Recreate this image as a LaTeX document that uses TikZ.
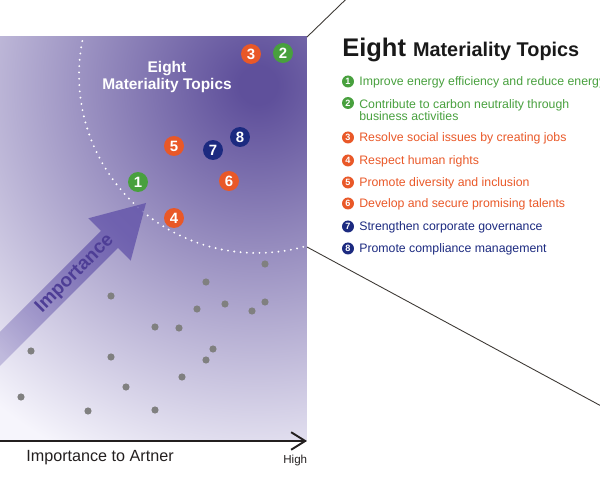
\documentclass[tikz,border=0pt]{standalone}
\usepackage{fontspec}
\setmainfont{Liberation Sans}
\usetikzlibrary{arrows.meta,positioning,calc,fadings}
\definecolor{MatDeep}{RGB}{95,80,155}
\definecolor{MatPale}{RGB}{246,245,252}
\definecolor{MatArrow}{RGB}{100,85,170}
\definecolor{MatInk}{RGB}{78,62,150}
\definecolor{MatGreen}{RGB}{72,160,62}
\definecolor{MatOrange}{RGB}{233,88,40}
\definecolor{MatNavy}{RGB}{28,42,128}
\definecolor{MatDot}{RGB}{128,128,128}
\definecolor{MatRule}{RGB}{60,56,52}
\definecolor{MatAxis}{RGB}{35,31,31}
\definecolor{MatHead}{RGB}{25,25,25}
\pgfdeclareradialshading{matglow}{\pgfpoint{0bp}{0bp}}{color(0bp)=(MatDeep); color(1bp)=(MatDeep); color(21.5bp)=(MatPale); color(50bp)=(MatPale)}
\tikzfading[name=matfade, left color=transparent!70, right color=transparent!18]

\begin{document}
\begin{tikzpicture}[x=0.02cm,y=-0.02cm,
    topic/.style={circle,inner sep=0pt,minimum size=0.4cm,text=white,font=\bfseries\fontsize{8.5}{9}\selectfont},
    bullet/.style={circle,inner sep=0pt,minimum size=0.24cm,text=white,font=\bfseries\fontsize{5.2}{6}\selectfont},
    item/.style={anchor=base west,inner sep=0pt,font=\fontsize{7}{8}\selectfont},
    zoomline/.style={draw=MatRule,line width=0.5pt},
    dotring/.style={white,line width=1.2pt,line cap=round,dash pattern=on 0pt off 3.6pt}
  ]
    \useasboundingbox (0,0) rectangle (600,500);
    \clip (0,0) rectangle (600,500);
    \coordinate (panelNW) at (-5,37);
    \coordinate (panelNE) at (307,37);
    \coordinate (panelSE) at (307,441);
    \coordinate (ringE) at (307,247);
    \coordinate (zoomTop) at (370,-24);
    \coordinate (zoomBot) at (640,427);
    \coordinate (axisW) at (-5,441);
    \coordinate (axisE) at (307,441);

    % matrix panel
    \begin{scope}
      \clip (panelNW) rectangle (panelSE);
      \shade[shading=matglow] (258,85) circle (9.6cm);
      \draw[dotring] (257,75) circle (3.56cm);
      \foreach \x/\y in {265/264,206/282,111/296,197/309,225/304,252/311,265/302,155/327,179/328,
                         31/351,111/357,213/349,206/360,182/377,126/387,21/397,88/411,155/410}
        \fill[MatDot] (\x,\y) circle (0.072cm);
      \fill[MatArrow,path fading=matfade,fading angle=45] (-26.3,358.3) -- (101,231) -- (88.3,218.3) -- (146,203)
        -- (130.7,260.7) -- (118,248) -- (-9.3,375.3) -- cycle;
    \end{scope}
    \node[rotate=45,text=MatInk,font=\bfseries\fontsize{10.8}{12}\selectfont] (imp) at (75,274) {Importance};
    \node[text=white,align=center,font=\bfseries\fontsize{8.8}{10.2}\selectfont] (ptitle) at (167,77) {Eight\\Materiality Topics};

    \node[topic,fill=MatGreen] (m1) at (138,182) {1};
    \node[topic,fill=MatGreen] (m2) at (283,53) {2};
    \node[topic,fill=MatOrange] (m3) at (251,54) {3};
    \node[topic,fill=MatOrange] (m4) at (174,218) {4};
    \node[topic,fill=MatOrange] (m5) at (174,146) {5};
    \node[topic,fill=MatOrange] (m6) at (229,181) {6};
    \node[topic,fill=MatNavy] (m7) at (213,150) {7};
    \node[topic,fill=MatNavy] (m8) at (240,137) {8};

    % axis
    \draw[MatAxis,line width=1.1pt,-{Straight Barb[length=8pt,width=10pt,line width=1.1pt]}] (axisW) -- (axisE);
    \node[anchor=base west,inner sep=0pt,text=MatAxis,font=\fontsize{9.2}{11}\selectfont] (xlab) at (26,462) {Importance to Artner};
    \node[anchor=base west,inner sep=0pt,text=MatAxis,font=\fontsize{6.6}{8}\selectfont] (xhigh) at (283,464) {High};

    % zoom lines
    \draw[zoomline] (panelNE) -- (zoomTop);
    \draw[zoomline] (ringE) -- (zoomBot);

    % legend
    \node[anchor=base west,inner sep=0pt,text=MatHead,font=\bfseries] (heading) at (342,57)
      {{\fontsize{14.5}{16}\selectfont Eight}\hspace{4pt}{\fontsize{11.3}{13}\selectfont Materiality Topics}};
    \node[bullet,fill=MatGreen] (b1) at (348,81.5) {1};
    \node[item,text=MatGreen] (t1) at (359,86) {Improve energy efficiency and reduce energy};
    \node[bullet,fill=MatGreen] (b2) at (348,103) {2};
    \node[item,text=MatGreen] (t2) at (359,109) {Contribute to carbon neutrality through};
    \node[item,text=MatGreen] (t2b) at (359,120.5) {business activities};
    \node[bullet,fill=MatOrange] (b3) at (348,137.5) {3};
    \node[item,text=MatOrange] (t3) at (359,142) {Resolve social issues by creating jobs};
    \node[bullet,fill=MatOrange] (b4) at (348,160.5) {4};
    \node[item,text=MatOrange] (t4) at (359,165) {Respect human rights};
    \node[bullet,fill=MatOrange] (b5) at (348,182.5) {5};
    \node[item,text=MatOrange] (t5) at (359,187) {Promote diversity and inclusion};
    \node[bullet,fill=MatOrange] (b6) at (348,203.5) {6};
    \node[item,text=MatOrange] (t6) at (359,208) {Develop and secure promising talents};
    \node[bullet,fill=MatNavy] (b7) at (348,226.5) {7};
    \node[item,text=MatNavy] (t7) at (359,231) {Strengthen corporate governance};
    \node[bullet,fill=MatNavy] (b8) at (348,248.5) {8};
    \node[item,text=MatNavy] (t8) at (359,253) {Promote compliance management};
\end{tikzpicture}
\end{document}
